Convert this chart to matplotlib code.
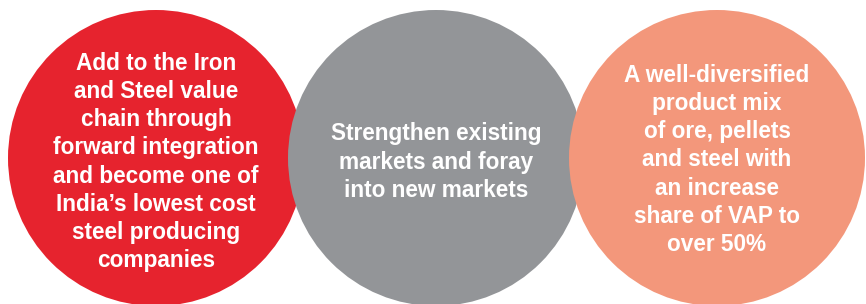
import matplotlib
matplotlib.use("Agg")
import matplotlib.pyplot as plt
from matplotlib.patches import Circle

# Content
labels = [
    "Add to the Iron\nand Steel value\nchain through\nforward integration\nand become one of\nIndia\u2019s lowest cost\nsteel producing\ncompanies",
    "Strengthen existing\nmarkets and foray\ninto new markets",
    "A well-diversified\nproduct mix\nof ore, pellets\nand steel with\nan increase\nshare of VAP to\nover 50%",
]
colors = ["#E6232E", "#939598", "#F3977B"]

# Layout (pixels)
centers_x = [156, 436, 717]
centers_y = [158, 158, 158]
radius = 148
text_y = [162, 162, 160]

W, H = 866, 304
fig = plt.figure(figsize=(W / 100, H / 100), dpi=100)
ax = fig.add_axes([0, 0, 1, 1])
ax.set_xlim(0, W)
ax.set_ylim(H, 0)
ax.set_aspect("equal")
ax.axis("off")

for i, (lab, col) in enumerate(zip(labels, colors)):
    ax.add_patch(Circle((centers_x[i], centers_y[i]), radius, color=col, lw=0, zorder=i + 1))
    ax.text(centers_x[i], text_y[i], lab, ha="center", va="center", ma="center",
            color="white", fontsize=16.3, fontweight="bold", family="Liberation Sans",
            linespacing=1.29, zorder=10)

fig.savefig("out.png", dpi=100)
